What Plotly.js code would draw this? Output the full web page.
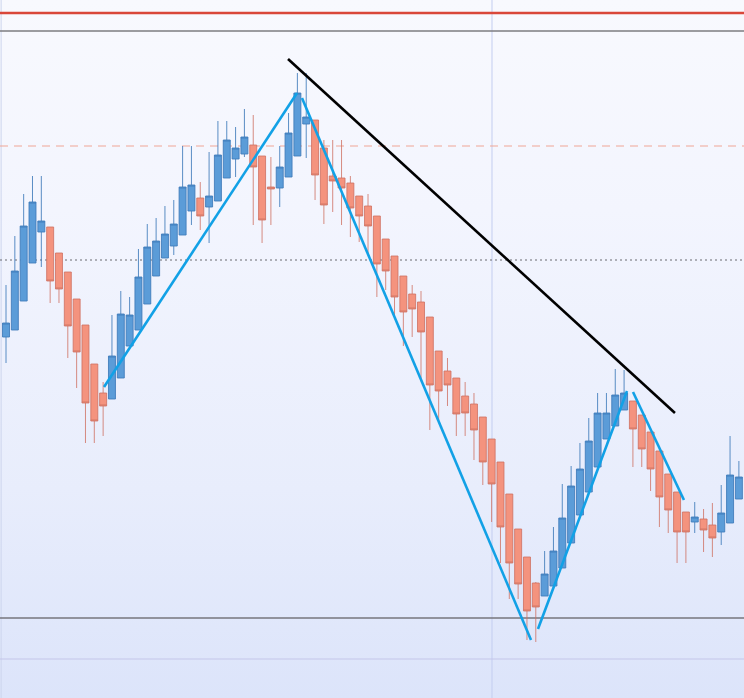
<!DOCTYPE html>
<html>
<head>
<meta charset="utf-8">
<script src="https://cdn.plot.ly/plotly-3.0.1.min.js"></script>
<style>
html,body{margin:0;padding:0;background:#f5f7fe;}
#chart{width:744px;height:698px;background:linear-gradient(to bottom,#f8f9fe 0%,#f3f5fe 30%,#e8edfc 70%,#dce4fa 100%);}
</style>
</head>
<body>
<div id="chart"></div>
<script>
// Candle index (bar number)
const bars = Array.from({length: 84}, (_, i) => i + 1);
const opens = [363,370,399,437,468,473,447,428,401,375,336,307,301,322,354,370,396,424,442,454,
  465,489,502,493,499,522,541,546,555,544,513,512,523,544,576,580,552,524,522,517,
  504,494,484,461,444,424,406,398,383,349,329,322,304,296,283,261,238,206,171,143,
  117,104,114,132,157,185,208,233,261,274,290,299,285,268,249,226,208,188,178,181,
  175,168,177,201];
const highs = [415,464,506,524,524,473,447,428,401,375,336,318,385,409,403,451,476,482,494,500,
  554,554,518,548,579,579,573,591,585,544,543,554,587,627,627,580,560,560,560,524,
  504,506,484,461,444,424,415,409,383,349,342,322,318,307,283,261,238,206,171,143,
  118,149,173,216,234,257,282,307,307,331,330,299,285,268,249,226,208,188,198,191,
  197,215,264,239];
const lows = [337,370,399,437,433,397,397,342,312,257,257,264,301,322,354,370,396,424,442,445,
  465,475,470,457,499,522,523,543,475,457,475,493,523,544,542,500,476,488,475,463,
  458,445,403,410,384,354,363,320,270,277,294,264,264,240,215,178,137,101,101,60,
  58,104,114,132,157,185,208,233,261,274,290,233,233,209,173,167,137,137,167,148,
  143,155,177,201];
const closes = [377,429,474,498,479,419,411,374,348,297,279,294,344,386,385,423,453,459,466,476,
  513,515,484,504,545,560,552,563,533,480,511,533,567,607,583,525,495,519,512,492,
  484,474,436,429,403,388,391,368,315,309,315,286,287,270,238,216,173,137,116,89,
  93,126,149,182,214,231,259,287,287,305,307,271,251,231,203,190,168,168,183,170,
  162,187,225,223];

// Drawn trend lines: [start bar, end bar] and [start price, end price]
const blackTrendX = [32.94, 76.76];
const blackTrendY = [641, 287];
const blueTrendX = [[12.10, 33.96], [34.52, 60.46], [61.25, 71.33], [72.01, 77.78]];
const blueTrendY = [[313, 607], [602, 60], [71, 309], [308, 200]];

// Horizontal price levels
const redLevel = 687;
const upperGrayLevel = 669;
const dashedRedLevel = 554;
const dottedLevel = 440;
const lowerGrayLevel = 82;
const lavenderLevel = 41;
// Vertical cursor line (bar)
const cursorBar = 56.04;

const traces = [];
traces.push({
  type: 'candlestick', x: bars, open: opens, high: highs, low: lows, close: closes,
  increasing: {line: {color: 'rgba(62,122,186,0.85)', width: 1}, fillcolor: '#5b9cd8'},
  decreasing: {line: {color: 'rgba(206,112,98,0.8)', width: 1}, fillcolor: '#f4937e'},
  whiskerwidth: 0, hoverinfo: 'skip', showlegend: false
});
blueTrendX.forEach((xs, k) => {
  traces.push({type: 'scatter', mode: 'lines', x: xs, y: blueTrendY[k],
    line: {color: '#12a1e6', width: 2.6}, hoverinfo: 'skip', showlegend: false});
});
traces.push({type: 'scatter', mode: 'lines', x: blackTrendX, y: blackTrendY,
  line: {color: '#000000', width: 2.6}, hoverinfo: 'skip', showlegend: false});

function hline(y, color, width, dash) {
  return {type: 'line', xref: 'paper', x0: 0, x1: 1, yref: 'y', y0: y, y1: y,
    line: {color: color, width: width, dash: dash || 'solid'}, layer: 'below'};
}
const shapes = [
  {type: 'line', xref: 'x', x0: cursorBar, x1: cursorBar, yref: 'paper', y0: 0, y1: 1,
    line: {color: '#c3cdf0', width: 1}, layer: 'below'},
  {type: 'line', xref: 'paper', x0: 0.0015, x1: 0.0015, yref: 'paper', y0: 0, y1: 1,
    line: {color: '#cdd5ee', width: 1}, layer: 'below'},
  hline(redLevel, '#d9473a', 2.5),
  hline(upperGrayLevel, '#7c7c80', 1.5),
  hline(dashedRedLevel, '#f0a696', 1.2, '8px,6px'),
  hline(dottedLevel, '#6a6a70', 1.2, '2px,3px'),
  hline(lowerGrayLevel, '#76767c', 1.3),
  hline(lavenderLevel, '#c4c6ea', 1.2)
];

const layout = {
  width: 744, height: 698,
  margin: {l: 0, r: 0, t: 0, b: 0, pad: 0},
  paper_bgcolor: 'rgba(0,0,0,0)', plot_bgcolor: 'rgba(0,0,0,0)',
  showlegend: false,
  boxgap: 0.1,
  boxgroupgap: 0.12,
  xaxis: {range: [0.32, 84.58], visible: false, rangeslider: {visible: false}, fixedrange: true},
  yaxis: {range: [2, 700], visible: false, fixedrange: true},
  shapes: shapes,
  hovermode: false
};
Plotly.newPlot('chart', traces, layout, {staticPlot: true, displayModeBar: false});
</script>
</body>
</html>
